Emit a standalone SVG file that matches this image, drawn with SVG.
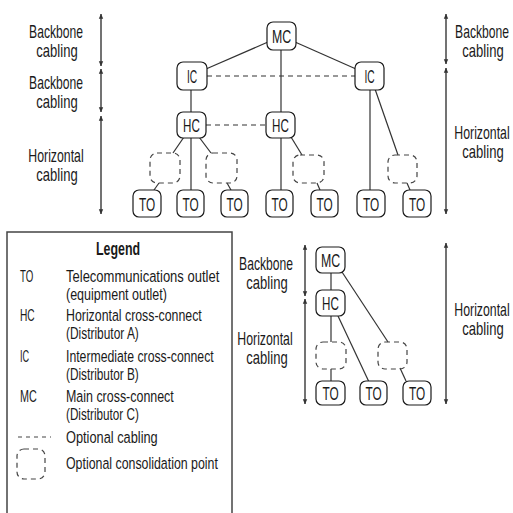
<svg xmlns="http://www.w3.org/2000/svg" width="513" height="513" viewBox="0 0 513 513">
  <style>
    text { font-family: "Liberation Sans", Arial, sans-serif; fill: #1a1a1a; }
    .lbl { font-size: 18px; text-anchor: middle; }
    .node rect { fill: #fff; stroke: #1a1a1a; stroke-width: 1.2; }
    .node text { font-size: 19px; text-anchor: middle; }
    .cp rect { fill: none; stroke: #444; stroke-width: 1.2; stroke-dasharray: 5 4; }
    .wire { stroke: #333; stroke-width: 1.2; fill: none; }
    .opt { stroke: #333; stroke-width: 1.2; fill: none; stroke-dasharray: 5 4; }
    .span { stroke: #444; stroke-width: 1.5; fill: none; marker-start: url(#tip); marker-end: url(#tip); }
    .leg { font-size: 17px; }
  </style>
  <defs>
    <marker id="tip" viewBox="0 0 8 8" refX="7.5" refY="4" markerWidth="5" markerHeight="6" orient="auto-start-reverse" markerUnits="userSpaceOnUse">
      <path d="M0,0.5 L8,4 L0,7.5 Z" fill="#333"/>
    </marker>
  </defs>

  <!-- span arrows and their labels -->
  <g id="spans">
    <line class="span" x1="101" y1="14" x2="101" y2="66"/>
    <line class="span" x1="101" y1="69" x2="101" y2="112"/>
    <line class="span" x1="101" y1="116" x2="101" y2="214"/>
    <line class="span" x1="446" y1="14" x2="446" y2="64"/>
    <line class="span" x1="446" y1="68" x2="446" y2="214"/>
    <line class="span" x1="305" y1="245" x2="305" y2="296"/>
    <line class="span" x1="305" y1="299" x2="305" y2="404"/>
    <line class="span" x1="446" y1="243" x2="446" y2="404"/>
  </g>
  <!-- condensed lettering: horizontal scale 0.7 -->
  <g id="span-labels">
    <text class="lbl" transform="translate(56 38) scale(0.7 1)" textLength="77" lengthAdjust="spacingAndGlyphs">Backbone</text>
    <text class="lbl" transform="translate(57 57) scale(0.7 1)" textLength="59" lengthAdjust="spacingAndGlyphs">cabling</text>
    <text class="lbl" transform="translate(56 89) scale(0.7 1)" textLength="77" lengthAdjust="spacingAndGlyphs">Backbone</text>
    <text class="lbl" transform="translate(57 108) scale(0.7 1)" textLength="59" lengthAdjust="spacingAndGlyphs">cabling</text>
    <text class="lbl" transform="translate(56 162) scale(0.7 1)" textLength="79" lengthAdjust="spacingAndGlyphs">Horizontal</text>
    <text class="lbl" transform="translate(57 181) scale(0.7 1)" textLength="59" lengthAdjust="spacingAndGlyphs">cabling</text>
    <text class="lbl" transform="translate(482 38) scale(0.7 1)" textLength="77" lengthAdjust="spacingAndGlyphs">Backbone</text>
    <text class="lbl" transform="translate(483 57) scale(0.7 1)" textLength="59" lengthAdjust="spacingAndGlyphs">cabling</text>
    <text class="lbl" transform="translate(482 139) scale(0.7 1)" textLength="79" lengthAdjust="spacingAndGlyphs">Horizontal</text>
    <text class="lbl" transform="translate(483 158) scale(0.7 1)" textLength="59" lengthAdjust="spacingAndGlyphs">cabling</text>
    <text class="lbl" transform="translate(266 270) scale(0.7 1)" textLength="77" lengthAdjust="spacingAndGlyphs">Backbone</text>
    <text class="lbl" transform="translate(267 289) scale(0.7 1)" textLength="59" lengthAdjust="spacingAndGlyphs">cabling</text>
    <text class="lbl" transform="translate(265 345) scale(0.7 1)" textLength="79" lengthAdjust="spacingAndGlyphs">Horizontal</text>
    <text class="lbl" transform="translate(267 364) scale(0.7 1)" textLength="59" lengthAdjust="spacingAndGlyphs">cabling</text>
    <text class="lbl" transform="translate(482 316) scale(0.7 1)" textLength="79" lengthAdjust="spacingAndGlyphs">Horizontal</text>
    <text class="lbl" transform="translate(483 335) scale(0.7 1)" textLength="59" lengthAdjust="spacingAndGlyphs">cabling</text>
  </g>

  <!-- connectors -->
  <g id="connectors">
    <!-- campus tree -->
    <line class="wire" x1="268" y1="42" x2="206" y2="69"/>
    <line class="wire" x1="295" y1="42" x2="356" y2="69"/>
    <line class="wire" x1="281" y1="50" x2="281" y2="112"/>
    <line class="opt" x1="207" y1="76" x2="355" y2="76"/>
    <line class="wire" x1="191" y1="90" x2="191" y2="112"/>
    <line class="opt" x1="206" y1="125" x2="266" y2="125"/>
    <line class="wire" x1="184" y1="137" x2="173" y2="153"/>
    <line class="wire" x1="159" y1="183" x2="154" y2="190"/>
    <line class="wire" x1="191" y1="138" x2="191" y2="190"/>
    <line class="wire" x1="199" y1="137" x2="211" y2="153"/>
    <line class="wire" x1="227" y1="183" x2="231" y2="190"/>
    <line class="wire" x1="281" y1="138" x2="281" y2="190"/>
    <line class="wire" x1="291" y1="137" x2="302" y2="155"/>
    <line class="wire" x1="317" y1="183" x2="320" y2="190"/>
    <line class="wire" x1="370" y1="90" x2="370" y2="190"/>
    <line class="wire" x1="375" y1="89" x2="398" y2="155"/>
    <line class="wire" x1="407" y1="183" x2="410" y2="190"/>
    <!-- building tree -->
    <line class="wire" x1="331" y1="273" x2="331" y2="290"/>
    <line class="wire" x1="342" y1="272" x2="388" y2="342"/>
    <line class="wire" x1="331" y1="316" x2="331" y2="342"/>
    <line class="wire" x1="331" y1="369" x2="331" y2="381"/>
    <line class="wire" x1="338" y1="316" x2="369" y2="382"/>
    <line class="wire" x1="400" y1="368" x2="406" y2="381"/>
  </g>

  <!-- campus tree nodes -->
  <g id="mc1" class="node"><rect x="267" y="22" width="29" height="28" rx="6"/><text transform="translate(281.5 43) scale(0.6 1)" textLength="32" lengthAdjust="spacingAndGlyphs">MC</text></g>
  <g id="ic1" class="node"><rect x="177" y="62" width="30" height="28" rx="6"/><text transform="translate(192 83) scale(0.6 1)" textLength="17" lengthAdjust="spacingAndGlyphs">IC</text></g>
  <g id="ic2" class="node"><rect x="355" y="62" width="29" height="28" rx="6"/><text transform="translate(369.5 83) scale(0.6 1)" textLength="17" lengthAdjust="spacingAndGlyphs">IC</text></g>
  <g id="hc1" class="node"><rect x="177" y="112" width="29" height="26" rx="6"/><text transform="translate(191.5 132) scale(0.6 1)" textLength="28" lengthAdjust="spacingAndGlyphs">HC</text></g>
  <g id="hc2" class="node"><rect x="266" y="112" width="29" height="26" rx="6"/><text transform="translate(280.5 132) scale(0.6 1)" textLength="28" lengthAdjust="spacingAndGlyphs">HC</text></g>
  <g id="cp1" class="cp"><rect x="150" y="153" width="30" height="30" rx="7"/></g>
  <g id="cp2" class="cp"><rect x="206" y="153" width="31" height="30" rx="7"/></g>
  <g id="cp3" class="cp"><rect x="293" y="155" width="31" height="28" rx="7"/></g>
  <g id="cp4" class="cp"><rect x="388" y="155" width="29" height="28" rx="7"/></g>
  <g id="to1" class="node"><rect x="133" y="190" width="28" height="27" rx="6"/><text transform="translate(147 211) scale(0.6 1)" textLength="27" lengthAdjust="spacingAndGlyphs">TO</text></g>
  <g id="to2" class="node"><rect x="177" y="190" width="27" height="27" rx="6"/><text transform="translate(190.5 211) scale(0.6 1)" textLength="27" lengthAdjust="spacingAndGlyphs">TO</text></g>
  <g id="to3" class="node"><rect x="221" y="190" width="27" height="27" rx="6"/><text transform="translate(234.5 211) scale(0.6 1)" textLength="27" lengthAdjust="spacingAndGlyphs">TO</text></g>
  <g id="to4" class="node"><rect x="266" y="190" width="27" height="27" rx="6"/><text transform="translate(279.5 211) scale(0.6 1)" textLength="27" lengthAdjust="spacingAndGlyphs">TO</text></g>
  <g id="to5" class="node"><rect x="311" y="190" width="27" height="27" rx="6"/><text transform="translate(324.5 211) scale(0.6 1)" textLength="27" lengthAdjust="spacingAndGlyphs">TO</text></g>
  <g id="to6" class="node"><rect x="357" y="190" width="28" height="27" rx="6"/><text transform="translate(371 211) scale(0.6 1)" textLength="27" lengthAdjust="spacingAndGlyphs">TO</text></g>
  <g id="to7" class="node"><rect x="403" y="190" width="28" height="27" rx="6"/><text transform="translate(417 211) scale(0.6 1)" textLength="27" lengthAdjust="spacingAndGlyphs">TO</text></g>

  <!-- building tree nodes -->
  <g id="mc2" class="node"><rect x="316" y="247" width="29" height="26" rx="6"/><text transform="translate(330.5 267) scale(0.6 1)" textLength="32" lengthAdjust="spacingAndGlyphs">MC</text></g>
  <g id="hc3" class="node"><rect x="316" y="290" width="29" height="26" rx="6"/><text transform="translate(330.5 310) scale(0.6 1)" textLength="28" lengthAdjust="spacingAndGlyphs">HC</text></g>
  <g id="cp5" class="cp"><rect x="316" y="342" width="30" height="27" rx="7"/></g>
  <g id="cp6" class="cp"><rect x="378" y="342" width="29" height="27" rx="7"/></g>
  <g id="to8" class="node"><rect x="316" y="381" width="29" height="24" rx="6"/><text transform="translate(330.5 400) scale(0.6 1)" textLength="27" lengthAdjust="spacingAndGlyphs">TO</text></g>
  <g id="to9" class="node"><rect x="360" y="381" width="27" height="24" rx="6"/><text transform="translate(373.5 400) scale(0.6 1)" textLength="27" lengthAdjust="spacingAndGlyphs">TO</text></g>
  <g id="to10" class="node"><rect x="403" y="381" width="28" height="24" rx="6"/><text transform="translate(417 400) scale(0.6 1)" textLength="27" lengthAdjust="spacingAndGlyphs">TO</text></g>

  <!-- legend -->
  <g id="legend">
    <rect x="7" y="232" width="225" height="290" fill="none" stroke="#444" stroke-width="1.5"/>
    <text transform="translate(118 255) scale(0.7 1)" font-size="18" font-weight="bold" text-anchor="middle" textLength="63" lengthAdjust="spacingAndGlyphs">Legend</text>
    <text class="leg" transform="translate(20 282) scale(0.7 1)" textLength="19" lengthAdjust="spacingAndGlyphs">TO</text>
    <text class="leg" transform="translate(66 282) scale(0.7 1)" textLength="219" lengthAdjust="spacingAndGlyphs">Telecommunications outlet</text>
    <text class="leg" transform="translate(66 300) scale(0.7 1)" textLength="144" lengthAdjust="spacingAndGlyphs">(equipment outlet)</text>
    <text class="leg" transform="translate(20 321) scale(0.7 1)" textLength="21" lengthAdjust="spacingAndGlyphs">HC</text>
    <text class="leg" transform="translate(66 321) scale(0.7 1)" textLength="194" lengthAdjust="spacingAndGlyphs">Horizontal cross-connect</text>
    <text class="leg" transform="translate(66 339) scale(0.7 1)" textLength="104" lengthAdjust="spacingAndGlyphs">(Distributor A)</text>
    <text class="leg" transform="translate(20 362) scale(0.7 1)" textLength="13" lengthAdjust="spacingAndGlyphs">IC</text>
    <text class="leg" transform="translate(66 362) scale(0.7 1)" textLength="211" lengthAdjust="spacingAndGlyphs">Intermediate cross-connect</text>
    <text class="leg" transform="translate(66 380) scale(0.7 1)" textLength="104" lengthAdjust="spacingAndGlyphs">(Distributor B)</text>
    <text class="leg" transform="translate(20 402) scale(0.7 1)" textLength="24" lengthAdjust="spacingAndGlyphs">MC</text>
    <text class="leg" transform="translate(66 402) scale(0.7 1)" textLength="154" lengthAdjust="spacingAndGlyphs">Main cross-connect</text>
    <text class="leg" transform="translate(66 420) scale(0.7 1)" textLength="104" lengthAdjust="spacingAndGlyphs">(Distributor C)</text>
    <line x1="18" y1="437" x2="51" y2="437" stroke="#444" stroke-width="1.2" stroke-dasharray="4 4"/>
    <text class="leg" transform="translate(66 443) scale(0.7 1)" textLength="131" lengthAdjust="spacingAndGlyphs">Optional cabling</text>
    <rect x="17" y="449" width="28" height="30" rx="7" fill="none" stroke="#444" stroke-width="1.2" stroke-dasharray="5 4"/>
    <text class="leg" transform="translate(66 469) scale(0.7 1)" textLength="217" lengthAdjust="spacingAndGlyphs">Optional consolidation point</text>
  </g>
</svg>
